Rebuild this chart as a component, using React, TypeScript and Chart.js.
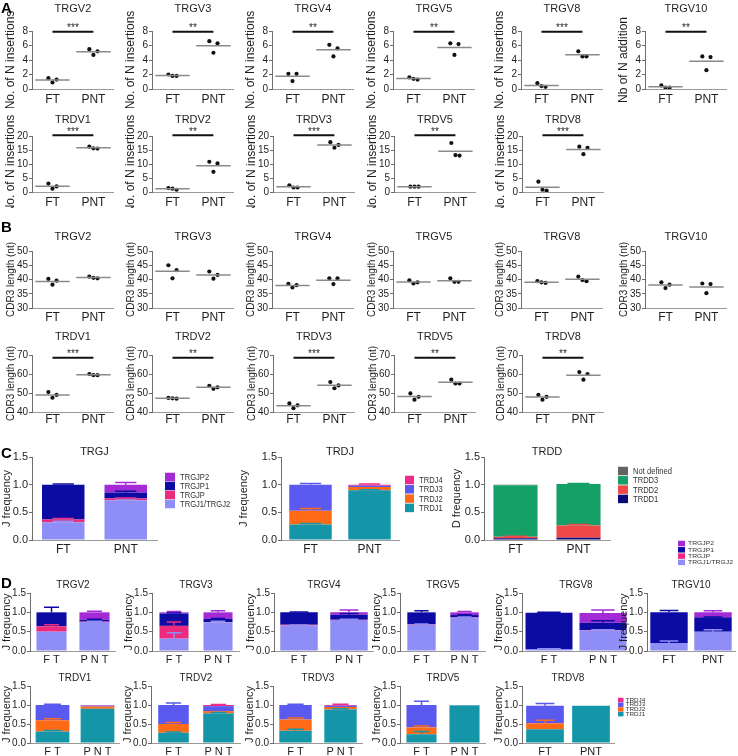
import React, { useEffect, useRef } from 'react';
import { Chart, registerables } from 'chart.js';

Chart.register(...registerables);

const FONT = "'Liberation Sans', Arial, Helvetica, sans-serif";
const TXT = '#1e1e1e';
const AXIS_Y = '#6e6e6e';
const AXIS_X = '#9a9a9a';

const GROUPS = ['FT', 'PNT'];

// ---------- A : number of N insertions ----------
const A_GENES = ['TRGV2', 'TRGV3', 'TRGV4', 'TRGV5', 'TRGV8', 'TRGV10', 'TRDV1', 'TRDV2', 'TRDV3', 'TRDV5', 'TRDV8'];
const A_FT = [[1.5, 1.3, 0.9], [2.0, 1.8, 1.8], [2.1, 2.1, 1.1], [1.6, 1.3, 1.4], [0.8, 0.3, 0.4], [0.5, 0.2, 0.2],
  [3.0, 2.0, 1.2], [1.4, 0.8, 1.2], [2.4, 1.6, 1.6], [1.9, 1.9, 1.9], [3.7, 0.5, 0.8]];
const A_PNT = [[5.5, 5.2, 4.7], [6.6, 6.3, 5.0], [6.1, 5.6, 4.5], [6.3, 6.2, 4.7], [5.2, 4.5, 4.5], [4.5, 4.4, 2.6],
  [16.2, 15.5, 15.6], [10.8, 10.2, 7.2], [17.8, 16.8, 15.8], [17.5, 13.0, 13.2], [16.2, 15.8, 13.5]];
const A_SIG = ['***', '**', '**', '**', '***', '**', '***', '**', '***', '**', '***'];
const A_YLABELS = ['No. of N insertions', 'No. of N insertions', 'No. of N insertions', 'No. of N insertions', 'No. of N insertions', 'Nb of N addition',
  'No. of N insertions', 'No. of N insertions', 'No. of N insertions', 'No. of N insertions', 'No. of N insertions'];
const A_TICKS_G = [0, 8, 2];
const A_TICKS_D = [0, 20, 5];

// ---------- B : CDR3 length ----------
const B_GENES = ['TRGV2', 'TRGV3', 'TRGV4', 'TRGV5', 'TRGV8', 'TRGV10', 'TRDV1', 'TRDV2', 'TRDV3', 'TRDV5', 'TRDV8'];
const B_FT = [[40.2, 39.6, 38.2], [45.0, 43.3, 40.4], [38.5, 38.0, 37.2], [39.7, 39.0, 38.6], [39.4, 38.8, 39.0], [39.0, 38.2, 37.0],
  [50.5, 49.0, 47.5], [47.4, 47.0, 47.2], [44.5, 43.5, 42.0], [49.8, 48.0, 46.5], [49.0, 48.0, 46.5]];
const B_PNT = [[41.0, 40.4, 40.6], [42.8, 41.6, 40.3], [40.4, 40.4, 38.4], [40.4, 39.2, 39.2], [41.0, 39.4, 39.8], [38.6, 38.4, 35.2],
  [60.0, 59.4, 59.4], [53.8, 53.0, 52.2], [55.8, 54.0, 52.5], [57.0, 55.0, 55.0], [61.0, 60.0, 57.0]];
const B_SIG = ['', '', '', '', '', '', '***', '**', '***', '**', '**'];
const B_YLABEL = 'CDR3 length (nt)';
const B_TICKS_G = [30, 50, 5];
const B_TICKS_D = [40, 70, 10];

// ---------- C : J / D usage ----------
const G_SEGMENTS = ['TRGJ1/TRGJ2', 'TRGJP', 'TRGJP1', 'TRGJP2'];
const D_SEGMENTS = ['TRDJ1', 'TRDJ2', 'TRDJ3', 'TRDJ4'];
const DD_SEGMENTS = ['TRDD1', 'TRDD2', 'TRDD3', 'Not defined'];
const G_COLORS = ['#8e8ef6', '#ee2a7c', '#0c0ca4', '#a42ad6'];
const D_COLORS = ['#1596a8', '#ff6a16', '#5a5af0', '#ee2a8a'];
const DD_COLORS = ['#0a0a78', '#f04848', '#14a066', '#636363'];

const C_TRGJ = [[0.32, 0.72], [0.05, 0.03], [0.63, 0.11], [0.0, 0.14]];
const C_TRGJ_ERR = [[0.02, 0.02], [0.02, 0.01], [0.01, 0.02], [0, 0.04]];
const C_TRDJ = [[0.28, 0.90], [0.25, 0.06], [0.47, 0.02], [0.0, 0.02]];
const C_TRDJ_ERR = [[0.02, 0.01], [0.04, 0.0], [0.02, 0.0], [0, 0.01]];
const C_TRDD = [[0.03, 0.04], [0.03, 0.22], [0.93, 0.75], [0.01, 0.0]];
const C_TRDD_ERR = [[0, 0], [0.01, 0.02], [0.0, 0.01], [0, 0]];

// ---------- D : J usage per V gene ----------
const DG_GENES = ['TRGV2', 'TRGV3', 'TRGV4', 'TRGV5', 'TRGV8', 'TRGV10'];
const DG_J1J2 = [[0.50, 0.75], [0.32, 0.74], [0.66, 0.80], [0.68, 0.86], [0.05, 0.53], [0.21, 0.50]];
const DG_JP = [[0.14, 0.01], [0.33, 0.01], [0.02, 0.01], [0.01, 0.01], [0.0, 0.01], [0.0, 0.0]];
const DG_JP1 = [[0.36, 0.05], [0.32, 0.08], [0.32, 0.13], [0.31, 0.06], [0.94, 0.19], [0.79, 0.37]];
const DG_JP2 = [[0.0, 0.19], [0.03, 0.17], [0.0, 0.06], [0.0, 0.07], [0.0, 0.25], [0.0, 0.13]];
const DG_J1J2_ERR = [[0.0, 0.02], [0.15, 0.03], [0.01, 0.02], [0.02, 0.02], [0.01, 0.02], [0.05, 0.05]];
const DG_JP_ERR = [[0.04, 0], [0.1, 0], [0, 0], [0, 0], [0, 0], [0, 0]];
const DG_JP1_ERR = [[0.13, 0.01], [0.02, 0.01], [0.01, 0.03], [0.04, 0.01], [0.01, 0.05], [0.05, 0.01]];
const DG_JP2_ERR = [[0, 0.03], [0.02, 0.04], [0, 0.06], [0, 0.02], [0, 0.08], [0, 0.04]];
const DG_XLABELS = [['F T', 'P N T'], ['F T', 'P N T'], ['F T', 'P N T'], ['F T', 'P N T'], ['F T', 'P N T'], ['FT', 'PNT']];

const DD_GENES = ['TRDV1', 'TRDV2', 'TRDV3', 'TRDV5', 'TRDV8'];
const DD_J1 = [[0.30, 0.90], [0.27, 0.78], [0.32, 0.88], [0.23, 0.99], [0.36, 0.98]];
const DD_J2 = [[0.30, 0.06], [0.23, 0.06], [0.30, 0.07], [0.18, 0.0], [0.16, 0.0]];
const DD_J3 = [[0.40, 0.03], [0.50, 0.13], [0.38, 0.03], [0.59, 0.01], [0.46, 0.0]];
const DD_J4 = [[0.0, 0.01], [0.0, 0.03], [0.0, 0.02], [0.0, 0.0], [0.0, 0.0]];
const DD_J1_ERR = [[0.03, 0.0], [0.02, 0.02], [0.04, 0.02], [0.07, 0], [0.0, 0]];
const DD_J2_ERR = [[0.04, 0], [0.04, 0], [0.04, 0], [0.04, 0], [0.08, 0]];
const DD_J3_ERR = [[0.02, 0], [0.05, 0], [0.02, 0], [0.1, 0], [0.06, 0]];
const DD_J4_ERR = [[0, 0], [0, 0.01], [0, 0.02], [0, 0], [0, 0]];
const DD_XLABELS = [['F T', 'P N T'], ['F T', 'P N T'], ['F T', 'P N T'], ['F T', 'P N T'], ['FT', 'PNT']];

// ---------- layout (positions only) ----------
type Row = { top: number; titleY: number; chartTop: number; chartBottom: number; bottom: number; labelY: number };
const ROWS: Record<string, Row> = {
  A1: { top: 0, titleY: 9, chartTop: 31, chartBottom: 89, bottom: 108, labelY: 100 },
  A2: { top: 108, titleY: 120, chartTop: 136, chartBottom: 192, bottom: 208, labelY: 203 },
  B1: { top: 215, titleY: 237, chartTop: 251, chartBottom: 308, bottom: 327, labelY: 318 },
  B2: { top: 327, titleY: 337, chartTop: 355, chartBottom: 412, bottom: 429, labelY: 420 },
  C: { top: 432, titleY: 452, chartTop: 457, chartBottom: 540, bottom: 560, labelY: 550 },
  D1: { top: 570, titleY: 585, chartTop: 593, chartBottom: 651, bottom: 668, labelY: 660 },
  D2: { top: 668, titleY: 678, chartTop: 686, chartBottom: 743, bottom: 756, labelY: 752 },
};
const COLS_G = [32, 152, 272, 393, 521, 645];
const COLS_D = [32, 152, 273, 394, 522];
const DG_AXIS = [30, 152, 274, 400, 522, 647];
const DG_W = [86, 88, 100, 86, 108, 88];
const DG_BP = [0.7, 0.66, 0.75, 0.66, 0.87, 0.85];
const DD_AXIS = [30, 151, 273, 400, 522];
const DD_W = [90, 90, 90, 86, 92];
const DD_BP = [0.75, 0.68, 0.72, 0.7, 0.82];

const JIT = [-0.1, 0.1, 0];
const MEAN_HALF = 0.42;

// ---------- plugins ----------
const sigPlugin = {
  id: 'sigBar',
  afterDraw(chart: any, _a: any, o: any) {
    if (!o || !o.text) return;
    const { ctx } = chart;
    const xs = chart.scales.x, ys = chart.scales.y;
    const py = ys.getPixelForValue(o.y);
    const x1 = xs.getPixelForValue(o.x1), x2 = xs.getPixelForValue(o.x2);
    ctx.save();
    ctx.strokeStyle = '#111';
    ctx.lineWidth = 2;
    ctx.beginPath();
    ctx.moveTo(x1, py);
    ctx.lineTo(x2, py);
    ctx.stroke();
    ctx.fillStyle = '#222';
    ctx.font = `10px ${FONT}`;
    ctx.textAlign = 'center';
    ctx.textBaseline = 'alphabetic';
    ctx.fillText(o.text, (x1 + x2) / 2, py - 0.5);
    ctx.restore();
  },
};

const errPlugin = {
  id: 'errBars',
  afterDatasetsDraw(chart: any) {
    const { ctx } = chart;
    const ys = chart.scales.y;
    const unit = ys.getPixelForValue(0) - ys.getPixelForValue(1);
    chart.data.datasets.forEach((ds: any, i: number) => {
      if (!ds.errors) return;
      const meta = chart.getDatasetMeta(i);
      meta.data.forEach((el: any, j: number) => {
        const e = ds.errors[j];
        if (!e) return;
        const top = el.y, px = el.x;
        const cap = el.width * 0.5;
        const ey = top - e * unit;
        ctx.save();
        ctx.strokeStyle = ds.errorColor;
        ctx.lineWidth = 1.5;
        ctx.beginPath();
        ctx.moveTo(px, top);
        ctx.lineTo(px, ey);
        ctx.moveTo(px - cap / 2, ey);
        ctx.lineTo(px + cap / 2, ey);
        ctx.stroke();
        ctx.restore();
      });
    });
  },
};

const legendPlugin = {
  id: 'boxLegend',
  afterDraw(chart: any, _a: any, o: any) {
    if (!o || !o.show) return;
    const { ctx } = chart;
    const items = [...chart.data.datasets].reverse();
    items.forEach((d: any, i: number) => {
      const cy = o.y + i * o.step;
      ctx.save();
      ctx.fillStyle = d.backgroundColor;
      ctx.fillRect(o.x, cy - o.bh / 2, o.bw, o.bh);
      ctx.translate(o.x + o.bw + o.gap, cy);
      ctx.scale(o.sx, o.sy);
      ctx.fillStyle = '#333';
      ctx.font = `${o.size}px ${FONT}`;
      ctx.textAlign = 'left';
      ctx.textBaseline = 'middle';
      ctx.fillText(d.label, 0, 0.5);
      ctx.restore();
    });
  },
};

// ---------- option helpers ----------
function titleOpts(row: Row, top: number, text: string, size: number) {
  const lh = size * 1.2;
  const padTop = row.titleY - top - lh / 2;
  const padBottom = row.chartTop - top - padTop - lh;
  return {
    display: true, text, fullSize: false, color: TXT,
    font: { family: FONT, size, weight: 'normal', lineHeight: 1.2 },
    padding: { top: padTop, bottom: padBottom },
  };
}

function xBase(row: Row, size: number) {
  const xH = row.bottom - row.chartBottom;
  const pad = row.labelY - row.chartBottom - size * 0.6;
  return {
    grid: { display: false, drawTicks: false },
    border: { display: true, color: AXIS_X, width: 1 },
    ticks: { font: { family: FONT, size, lineHeight: 1.2 }, color: TXT, padding: pad, maxRotation: 0, minRotation: 0, autoSkip: false },
    afterFit: (s: any) => { s.height = xH; },
  };
}

function yBase(min: number, max: number, step: number, label: string, labelSize: number, wy: number, labelOff: number, tickSize: number, decimals: number) {
  return {
    type: 'linear', min, max, position: 'left',
    ticks: { stepSize: step, autoSkip: false, font: { family: FONT, size: tickSize }, color: TXT, padding: 1, callback: (v: any) => Number(v).toFixed(decimals) },
    grid: { display: true, drawOnChartArea: false, drawTicks: true, tickLength: 3, color: AXIS_Y },
    border: { display: true, color: AXIS_Y, width: 1 },
    title: { display: true, text: label, color: TXT, font: { family: FONT, size: labelSize, lineHeight: 1.2 }, padding: { top: wy - labelOff - labelSize * 0.6, bottom: 0 } },
    afterFit: (s: any) => { s.width = wy; },
  };
}

type PanelSpec = { key: string; left: number; top: number; width: number; height: number; make: () => any };

function scatterPanel(key: string, rowKey: string, axisX: number, title: string, ft: number[], pnt: number[], sig: string,
  ylabel: string, labelSize: number, ticks: number[], sigY: number): PanelSpec {
  const row = ROWS[rowKey];
  const wy = 30, W = 84;
  const left = axisX - wy, top = row.top;
  const mean = (a: number[]) => a.reduce((s, v) => s + v, 0) / a.length;
  const meanLine = (c: number, m: number) => ({
    data: [{ x: c - MEAN_HALF, y: m }, { x: c + MEAN_HALF, y: m }],
    showLine: true, borderColor: '#8a8a8a', borderWidth: 1.5, pointRadius: 0, pointHoverRadius: 0,
  });
  const make = () => ({
    type: 'scatter',
    data: {
      datasets: [
        meanLine(1, mean(ft)),
        meanLine(2, mean(pnt)),
        {
          data: [...ft.map((v, k) => ({ x: 1 + JIT[k], y: v })), ...pnt.map((v, k) => ({ x: 2 + JIT[k], y: v }))],
          pointRadius: 2.1, pointHoverRadius: 2.1, pointBackgroundColor: '#111', pointBorderWidth: 0, showLine: false,
        },
      ],
    },
    options: {
      responsive: false, animation: false, devicePixelRatio: 1, events: [],
      layout: { padding: { left: 0, right: 0, top: 0, bottom: 0 } },
      plugins: {
        legend: { display: false }, tooltip: { enabled: false },
        title: titleOpts(row, top, title, 11),
        sigBar: { text: sig, y: sigY, x1: 1, x2: 2 },
      },
      scales: {
        x: {
          ...xBase(row, 12), type: 'linear', min: 0.5, max: 2.5,
          afterBuildTicks: (s: any) => { s.ticks = GROUPS.map((_, k) => ({ value: k + 1 })); },
          ticks: { ...xBase(row, 12).ticks, callback: (v: any) => GROUPS[Math.round(Number(v)) - 1] ?? '' },
        },
        y: yBase(ticks[0], ticks[1], ticks[2], ylabel, labelSize, wy, 21, 10, 0),
      },
    },
    plugins: [sigPlugin],
  });
  return { key, left, top, width: wy + W, height: row.bottom - top, make };
}

type Series = { label: string; color: string; values: number[]; errs: number[] };

function barPanel(o: {
  key: string; rowKey: string; axisX: number; W: number; bp: number; wy: number; labelOff: number; title: string; titleSize: number;
  ylabel: string; tickSize: number; xSize: number; xLabels: string[]; series: Series[]; padR: number; top?: number; legend?: any;
}): PanelSpec {
  const row = ROWS[o.rowKey];
  const top = o.top ?? row.top;
  const left = o.axisX - o.wy;
  const make = () => ({
    type: 'bar',
    data: {
      labels: o.xLabels,
      datasets: o.series.map((s) => ({
        label: s.label, data: s.values, backgroundColor: s.color, errors: s.errs, errorColor: s.color,
        borderWidth: 0, barPercentage: o.bp, categoryPercentage: 1, stack: 's',
      })),
    },
    options: {
      responsive: false, animation: false, devicePixelRatio: 1, events: [],
      layout: { padding: { left: 0, right: o.padR, top: 0, bottom: 0 } },
      plugins: {
        legend: { display: false }, tooltip: { enabled: false },
        title: titleOpts(row, top, o.title, o.titleSize),
        boxLegend: o.legend ? { show: true, ...o.legend, x: o.legend.x - left, y: o.legend.y - top } : { show: false },
      },
      scales: {
        x: { ...xBase(row, o.xSize), type: 'category', stacked: true, offset: true },
        y: { ...yBase(0, 1.5, 0.5, o.ylabel, 11, o.wy, o.labelOff, o.tickSize, 1), stacked: true },
      },
    },
    plugins: [errPlugin, legendPlugin],
  });
  return { key: o.key, left, top, width: o.wy + o.W + o.padR, height: row.bottom - top, make };
}

function seriesFrom(labels: string[], colors: string[], vals: number[][], errs: number[][]): Series[] {
  return labels.map((l, k) => ({ label: l, color: colors[k], values: vals[k], errs: errs[k] }));
}

function buildPanels(): PanelSpec[] {
  const out: PanelSpec[] = [];
  // A
  A_GENES.forEach((g, i) => {
    const isG = i < 6;
    out.push(scatterPanel('A' + i, isG ? 'A1' : 'A2', isG ? COLS_G[i] : COLS_D[i - 6], g, A_FT[i], A_PNT[i], A_SIG[i],
      A_YLABELS[i], 12, isG ? A_TICKS_G : A_TICKS_D, isG ? 7.9 : 20.3));
  });
  // B
  B_GENES.forEach((g, i) => {
    const isG = i < 6;
    out.push(scatterPanel('B' + i, isG ? 'B1' : 'B2', isG ? COLS_G[i] : COLS_D[i - 6], g, B_FT[i], B_PNT[i], B_SIG[i],
      B_YLABEL, 10, isG ? B_TICKS_G : B_TICKS_D, isG ? 49 : 68.6));
  });
  // C
  out.push(barPanel({
    key: 'C0', rowKey: 'C', axisX: 32, W: 125, bp: 0.68, wy: 32, labelOff: 25, title: 'TRGJ', titleSize: 11,
    ylabel: 'J frequency', tickSize: 11, xSize: 12, xLabels: GROUPS, padR: 90,
    series: seriesFrom(G_SEGMENTS, G_COLORS, C_TRGJ, C_TRGJ_ERR),
    legend: { x: 165, y: 477, step: 9, bw: 10, bh: 8.5, size: 9.5, sx: 0.8, sy: 1, gap: 5 },
  }));
  out.push(barPanel({
    key: 'C1', rowKey: 'C', axisX: 281, W: 118, bp: 0.72, wy: 46, labelOff: 37, title: 'TRDJ', titleSize: 11,
    ylabel: 'J frequency', tickSize: 11, xSize: 12, xLabels: GROUPS, padR: 55,
    series: seriesFrom(D_SEGMENTS, D_COLORS, C_TRDJ, C_TRDJ_ERR),
    legend: { x: 405, y: 480, step: 9.3, bw: 9, bh: 8.5, size: 9.5, sx: 0.8, sy: 1, gap: 5 },
  }));
  out.push(barPanel({
    key: 'C2', rowKey: 'C', axisX: 484, W: 126, bp: 0.7, wy: 36, labelOff: 27, title: 'TRDD', titleSize: 11,
    ylabel: 'D frequency', tickSize: 11, xSize: 12, xLabels: GROUPS, padR: 90,
    series: seriesFrom(DD_SEGMENTS, DD_COLORS, C_TRDD, C_TRDD_ERR),
    legend: { x: 618, y: 471, step: 9.3, bw: 10, bh: 8.5, size: 9.5, sx: 0.8, sy: 1, gap: 5 },
  }));
  // D row 1
  DG_GENES.forEach((g, i) => {
    const last = i === DG_GENES.length - 1;
    const vals = [DG_J1J2[i], DG_JP[i], DG_JP1[i], DG_JP2[i]];
    const errs = [DG_J1J2_ERR[i], DG_JP_ERR[i], DG_JP1_ERR[i], DG_JP2_ERR[i]];
    const left = DG_AXIS[i] - 30;
    out.push(barPanel({
      key: 'DG' + i, rowKey: 'D1', axisX: DG_AXIS[i], W: DG_W[i], bp: DG_BP[i], wy: 30, labelOff: 23, title: g, titleSize: 10,
      ylabel: 'J frequency', tickSize: 10, xSize: 11, xLabels: DG_XLABELS[i],
      padR: last ? 738 - left - 30 - DG_W[i] : 0,
      top: last ? 538 : undefined,
      series: seriesFrom(G_SEGMENTS, G_COLORS, vals, errs),
      legend: last ? { x: 678, y: 543.5, step: 6.3, bw: 7, bh: 5.5, size: 8.5, sx: 0.8, sy: 0.7, gap: 3 } : undefined,
    }));
  });
  // D row 2
  DD_GENES.forEach((g, i) => {
    const last = i === DD_GENES.length - 1;
    const vals = [DD_J1[i], DD_J2[i], DD_J3[i], DD_J4[i]];
    const errs = [DD_J1_ERR[i], DD_J2_ERR[i], DD_J3_ERR[i], DD_J4_ERR[i]];
    const left = DD_AXIS[i] - 30;
    out.push(barPanel({
      key: 'DD' + i, rowKey: 'D2', axisX: DD_AXIS[i], W: DD_W[i], bp: DD_BP[i], wy: 30, labelOff: 23, title: g, titleSize: 10,
      ylabel: 'J frequency', tickSize: 10, xSize: 11, xLabels: DD_XLABELS[i],
      padR: last ? 738 - left - 30 - DD_W[i] : 0,
      series: seriesFrom(D_SEGMENTS, D_COLORS, vals, errs),
      legend: last ? { x: 618, y: 700, step: 4.7, bw: 5.5, bh: 4.5, size: 7.5, sx: 0.85, sy: 0.62, gap: 2 } : undefined,
    }));
  });
  return out;
}

const PANELS = buildPanels();
const SECTION_LETTERS = [
  { text: 'A', top: 0 },
  { text: 'B', top: 219 },
  { text: 'C', top: 445 },
  { text: 'D', top: 575 },
];

function ChartCanvas({ spec }: { spec: PanelSpec }) {
  const ref = useRef<HTMLCanvasElement | null>(null);
  useEffect(() => {
    if (!ref.current) return;
    const chart = new Chart(ref.current, spec.make());
    return () => chart.destroy();
  }, [spec]);
  return (
    <canvas
      ref={ref}
      width={spec.width}
      height={spec.height}
      style={{ position: 'absolute', left: spec.left, top: spec.top, width: spec.width, height: spec.height }}
    />
  );
}

export default function App() {
  return (
    <div style={{ position: 'absolute', left: 0, top: 0, width: 738, height: 756, overflow: 'hidden', background: '#fff', fontFamily: FONT }}>
      {PANELS.map((p) => (
        <ChartCanvas key={p.key} spec={p} />
      ))}
      {SECTION_LETTERS.map((l) => (
        <div key={l.text} style={{ position: 'absolute', left: 1, top: l.top, fontSize: 15, lineHeight: '15px', fontWeight: 'bold', color: '#000' }}>
          {l.text}
        </div>
      ))}
    </div>
  );
}
